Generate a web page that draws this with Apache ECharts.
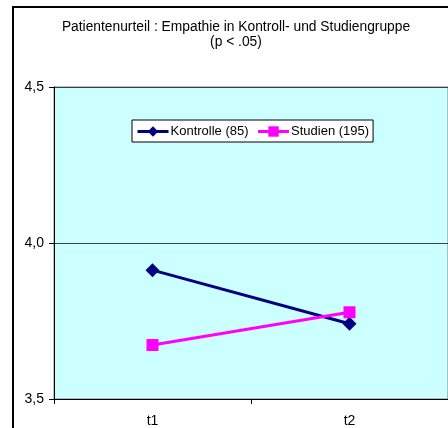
<!DOCTYPE html>
<html><head><meta charset="utf-8">
<script src="https://cdn.jsdelivr.net/npm/echarts@6/dist/echarts.min.js"></script>
<style>html,body{margin:0;padding:0;background:#fff}#c{width:448px;height:428px}</style>
</head><body><div id="c"></div>
<script>
const categories = ['t1', 't2'];
const kontrolle = [3.913, 3.741];
const studien = [3.673, 3.778];
const yTicks = [3.5, 4.0, 4.5];
const seriesNames = ['Kontrolle (85)', 'Studien (195)'];

const chart = echarts.init(document.getElementById('c'), null, {renderer: 'canvas'});
const font = 'Arial, Liberation Sans, sans-serif';
chart.setOption({
  animation: false,
  backgroundColor: '#fff',
  title: {
    text: 'Patientenurteil : Empathie in Kontroll- und Studiengruppe\n(p < .05)',
    left: 231, top: 15, textAlign: 'center',
    textStyle: {fontFamily: font, fontSize: 13.8, fontWeight: 'normal', color: '#000', lineHeight: 14.5}
  },
  graphic: [{
    type: 'rect', shape: {x: 13, y: 7, width: 500, height: 500},
    style: {fill: null, stroke: '#000', lineWidth: 2}, z: 100, silent: true
  }],
  legend: {
    left: 132, top: 120,
    padding: [5, 4, 4, 4],
    itemWidth: 31, itemHeight: 13, itemGap: 8,
    backgroundColor: '#fff', borderColor: '#000', borderWidth: 1,
    lineStyle: {width: 3},
    textStyle: {fontFamily: font, fontSize: 13, color: '#000', padding: [0, 0, 0, -3]},
    data: seriesNames
  },
  grid: {
    left: 54, top: 87, width: 396, height: 315,
    show: true, backgroundColor: '#CCFFFF', borderColor: '#808080', borderWidth: 1
  },
  xAxis: {
    type: 'category', data: categories, boundaryGap: true,
    axisLine: {lineStyle: {color: '#000', width: 1}},
    axisTick: {show: true, length: 5, lineStyle: {color: '#000'}},
    axisLabel: {fontFamily: font, fontSize: 14, color: '#000', margin: 15},
    splitLine: {show: false}
  },
  yAxis: {
    type: 'value', min: yTicks[0], max: yTicks[yTicks.length - 1], interval: 0.5,
    axisLine: {show: true, lineStyle: {color: '#000', width: 1}},
    axisTick: {show: true, length: 5, lineStyle: {color: '#000'}},
    axisLabel: {fontFamily: font, fontSize: 14, color: '#000', margin: 10,
      padding: [3, 0, 0, 0],
      formatter: v => v.toFixed(1).replace('.', ',')},
    splitLine: {show: true, lineStyle: {color: '#404040', width: 1}}
  },
  series: [{
    name: seriesNames[0], type: 'line', data: kontrolle,
    symbol: 'diamond', symbolSize: 14,
    lineStyle: {color: '#000080', width: 3},
    itemStyle: {color: '#000080'}
  }, {
    name: seriesNames[1], type: 'line', data: studien,
    symbol: 'rect', symbolSize: 12,
    lineStyle: {color: '#FF00FF', width: 3},
    itemStyle: {color: '#FF00FF'}
  }]
});
</script></body></html>
